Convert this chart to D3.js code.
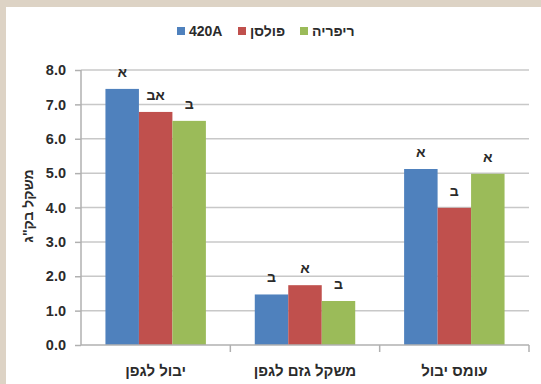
<!DOCTYPE html>
<html>
<head>
<meta charset="utf-8">
<script src="https://cdn.jsdelivr.net/npm/d3@7"></script>
<style>
  body { margin: 0; background: #fff; }
  svg text { font-family: "Liberation Sans", Arial, sans-serif; font-weight: bold; fill: #2b2b2b; }
</style>
</head>
<body>
<div id="chart"></div>
<script>
/*
** Data
*/
var categories = ["יבול לגפן", "משקל גזם לגפן", "עומס יבול"]
  , series = ["420A", "פולסן", "ריפריה"]
  , values420A = [7.45, 1.47, 5.12]
  , valuesPolsen = [6.78, 1.74, 3.99]
  , valuesRiparia = [6.52, 1.28, 4.98]
  , letters420A = ["א", "ב", "א"]
  , lettersPolsen = ["אב", "א", "ב"]
  , lettersRiparia = ["ב", "ב", "א"]
  , yTicks = [0, 1, 2, 3, 4, 5, 6, 7, 8]
  , colors = ["#4f81bd", "#c0504d", "#9bbb59"]
;

var width = 541
  , height = 384
  , margin = { top: 70, right: 12, bottom: 39, left: 81 }
  , innerW = width - margin.left - margin.right
  , innerH = height - margin.top - margin.bottom
  , valuesBySeries = [values420A, valuesPolsen, valuesRiparia]
  , lettersBySeries = [letters420A, lettersPolsen, lettersRiparia]
;

var rows = categories.map(function(c, i) {
    return series.map(function(s, j) {
        return { cat: c, key: s, value: valuesBySeries[j][i], letter: lettersBySeries[j][i], color: colors[j] };
    });
});

var svg = d3.select("#chart").append("svg")
    .attr("width", width)
    .attr("height", height)
;

// beige frame on top and left
svg.append("rect").attr("width", width).attr("height", 7).attr("fill", "#ddd3c5");
svg.append("rect").attr("width", 6).attr("height", height).attr("fill", "#ddd3c5");

var g = svg.append("g")
    .attr("transform", "translate(" + margin.left + "," + margin.top + ")")
;

var x = d3.scaleBand().domain(categories).range([0, innerW])
  , xInner = d3.scaleBand().domain(series).range([0, x.bandwidth()]).paddingOuter(0.73)
  , y = d3.scaleLinear().domain([0, 8]).range([innerH, 0])
;

// gridlines
g.append("g")
    .attr("class", "grid")
  .selectAll("line")
    .data(yTicks.slice(1))
  .enter().append("line")
    .attr("x1", 0)
    .attr("x2", innerW)
    .attr("y1", function(d) { return y(d); })
    .attr("y2", function(d) { return y(d); })
    .attr("stroke", "#c8c8c8")
    .attr("stroke-width", 1.5)
;

// bars
var groups = g.append("g")
    .attr("class", "bars")
  .selectAll("g")
    .data(rows)
  .enter().append("g")
    .attr("transform", function(d) { return "translate(" + x(d[0].cat) + ",0)"; })
;
groups.selectAll("rect")
    .data(function(d) { return d; })
  .enter().append("rect")
    .attr("x", function(d) { return xInner(d.key); })
    .attr("y", function(d) { return y(d.value); })
    .attr("width", xInner.bandwidth())
    .attr("height", function(d) { return innerH - y(d.value); })
    .attr("fill", function(d) { return d.color; })
;
groups.selectAll("text")
    .data(function(d) { return d; })
  .enter().append("text")
    .attr("x", function(d) { return xInner(d.key) + xInner.bandwidth() / 2; })
    .attr("y", function(d) { return y(d.value) - 12; })
    .attr("text-anchor", "middle")
    .attr("font-size", 14)
    .text(function(d) { return d.letter; })
;

// y axis
var yAxis = g.append("g")
    .attr("class", "y-axis")
    .call(d3.axisLeft(y).tickValues(yTicks).tickFormat(d3.format(".1f")).tickSize(6).tickPadding(9))
;
yAxis.selectAll("line, path").attr("stroke", "#b0b0b0").attr("stroke-width", 1.5);
yAxis.select(".domain").attr("d", "M0," + innerH + "V0");
yAxis.selectAll("text").attr("font-size", 14.5).attr("fill", "#2b2b2b");

// x axis, ticks sit on category boundaries
var xAxis = g.append("g")
    .attr("class", "x-axis")
    .attr("transform", "translate(0," + innerH + ")")
    .call(d3.axisBottom(x).tickSize(0).tickPadding(20))
;
xAxis.select(".domain").attr("stroke", "#b0b0b0").attr("stroke-width", 1.5).attr("d", "M0,0H" + innerW);
xAxis.selectAll("text").attr("font-size", 15).attr("fill", "#2b2b2b");
xAxis.selectAll(".bound")
    .data(categories)
  .enter().append("line")
    .attr("class", "bound")
    .attr("x1", function(d) { return x(d) + x.bandwidth(); })
    .attr("x2", function(d) { return x(d) + x.bandwidth(); })
    .attr("y1", 0)
    .attr("y2", 7)
    .attr("stroke", "#b0b0b0")
    .attr("stroke-width", 1.5)
;

// y axis title
svg.append("text")
    .attr("transform", "translate(33,206) rotate(-90)")
    .attr("text-anchor", "middle")
    .attr("font-size", 14)
    .text("משקל בק\"ג")
;

// legend
var legendX = [177, 238, 300];
var legend = svg.append("g")
    .attr("class", "legend")
  .selectAll("g")
    .data(series)
  .enter().append("g")
    .attr("transform", function(d, i) { return "translate(" + legendX[i] + ",27)"; })
;
legend.append("rect")
    .attr("width", 8)
    .attr("height", 8)
    .attr("fill", function(d, i) { return colors[i]; })
;
legend.append("text")
    .attr("x", 12)
    .attr("y", 9)
    .attr("font-size", 14)
    .attr("direction", "ltr")
    .text(function(d) { return d; })
;
</script>
</body>
</html>
